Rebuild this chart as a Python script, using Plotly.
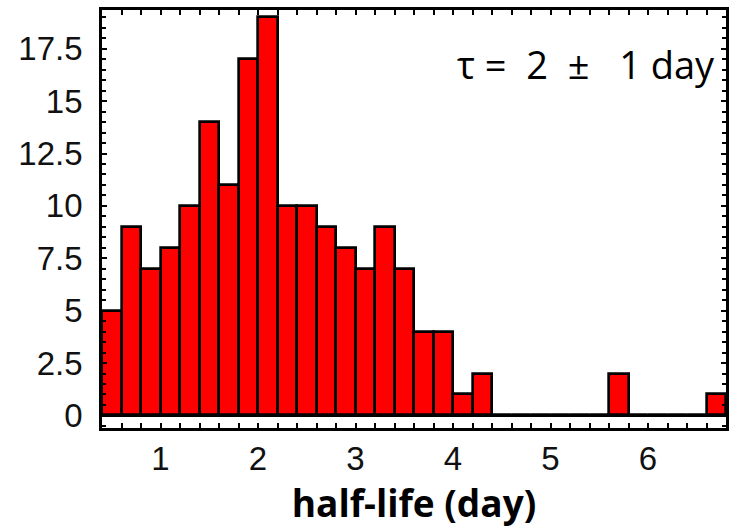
import numpy as np
import plotly.graph_objects as go

# Histogram of half-lives: bins of 0.2 day starting at 0.4 day
bin_start = 0.4
bin_width = 0.2
counts = [5, 9, 7, 8, 10, 14, 11, 17, 19, 10, 10, 9, 8, 7, 9, 7, 4, 4, 1, 2,
          0, 0, 0, 0, 0, 0, 2, 0, 0, 0, 0, 1]
x_ticks = [1, 2, 3, 4, 5, 6]
y_ticks = [0, 2.5, 5, 7.5, 10, 12.5, 15, 17.5]
y_tick_text = ["0", "2.5", "5", "7.5", "10", "12.5", "15", "17.5"]
annotation_text = "τ\u00a0=\u00a0\u00a02\u00a0\u00a0\u00b1\u00a0\u00a0\u00a01 day"
x_title = "half-life (day)"

centers = bin_start + bin_width * (np.arange(len(counts)) + 0.5)

fig = go.Figure()
fig.add_trace(go.Bar(
    x=centers,
    y=counts,
    width=bin_width,
    marker=dict(color="#ff0000", line=dict(color="black", width=2.7)),
    showlegend=False,
))

tick_font = dict(family="Liberation Sans, Arial, sans-serif", size=33, color="#111111")

fig.update_layout(
    width=735,
    height=530,
    margin=dict(l=102, r=6, t=10, b=102),
    paper_bgcolor="white",
    plot_bgcolor="white",
    bargap=0,
    xaxis=dict(
        range=[bin_start, bin_start + bin_width * len(counts)],
        tickvals=x_ticks,
        ticktext=[str(v) for v in x_ticks],
        ticks="inside",
        ticklen=5,
        tickwidth=2,
        tickcolor="black",
        minor=dict(dtick=0.2, tick0=0, ticks="inside", ticklen=5, tickwidth=2, tickcolor="black"),
        showline=True,
        linecolor="black",
        linewidth=2.7,
        mirror="ticks",
        showgrid=False,
        zeroline=False,
        tickfont=tick_font,
        ticklabelstandoff=0,
        title=dict(
            text=x_title,
            font=dict(family="Open Sans, sans-serif", size=37, color="black", weight="bold"),
            standoff=10,
        ),
    ),
    yaxis=dict(
        range=[-0.6, 19.35],
        tickvals=y_ticks,
        ticktext=y_tick_text,
        ticks="inside",
        ticklen=5,
        tickwidth=2,
        tickcolor="black",
        minor=dict(dtick=0.5, tick0=0, ticks="inside", ticklen=4, tickwidth=2, tickcolor="black"),
        showline=True,
        linecolor="black",
        linewidth=2.7,
        mirror="ticks",
        showgrid=False,
        zeroline=True,
        zerolinecolor="black",
        zerolinewidth=3,
        tickfont=tick_font,
        ticklabelstandoff=10,
    ),
    annotations=[dict(
        text=annotation_text,
        xref="paper", yref="paper",
        x=0.985, y=0.87,
        xanchor="right", yanchor="middle",
        showarrow=False,
        font=dict(family="Open Sans, sans-serif", size=38, color="black"),
    )],
)

fig.write_html("out.html")
